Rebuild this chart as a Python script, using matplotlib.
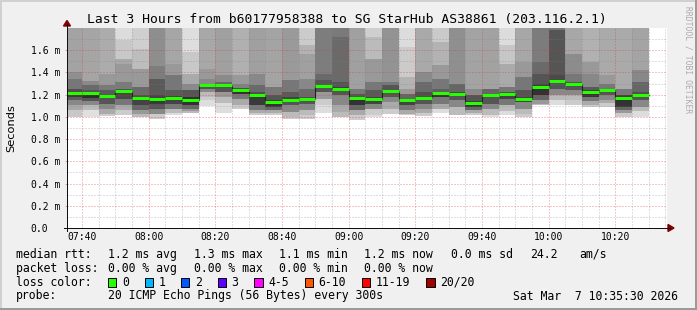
import matplotlib
matplotlib.use("Agg")
import matplotlib.pyplot as plt
from matplotlib.patches import Rectangle, Polygon
from matplotlib.lines import Line2D

# --- data -------------------------------------------------------------
# start of each 300s step, minutes after 07:00
bar_start = list(range(35, 210, 5))

# median rtt per step (ms)
median_ms = [1.213, 1.213, 1.189, 1.231, 1.171, 1.159, 1.171, 1.153, 1.285, 1.285,
             1.243, 1.195, 1.132, 1.150, 1.159, 1.276, 1.252, 1.171, 1.159, 1.231,
             1.150, 1.171, 1.213, 1.204, 1.123, 1.195, 1.204, 1.162, 1.267, 1.321,
             1.294, 1.222, 1.240, 1.171, 1.195]

# smoke above the median: (upper edge ms, gray level), from median upwards
smoke_above = [
    [(1.25, 0x50), (1.34, 0x77), (1.40, 0x8f), (2, 0xa3)],
    [(1.24, 0x55), (1.285, 0x6a), (1.32, 0x8a), (2, 0xa5)],
    [(1.24, 0x5a), (1.285, 0x7a), (1.39, 0x99), (2, 0xac)],
    [(1.255, 0x55), (1.315, 0x7a), (1.48, 0x99), (1.52, 0xa8), (1.69, 0xc8), (2, 0xdc)],
    [(1.195, 0x50), (1.27, 0x6a), (1.435, 0x99), (1.61, 0xbd), (2, 0xcf)],
    [(1.195, 0x45), (1.345, 0x5a), (1.46, 0x7d), (2, 0x8e)],
    [(1.19, 0x45), (1.24, 0x5a), (1.375, 0x77), (1.48, 0x99), (2, 0xa6)],
    [(1.18, 0x33), (1.24, 0x55), (1.30, 0x8a), (1.39, 0xaa), (1.58, 0xc8), (2, 0xde)],
    [(1.30, 0x55), (1.345, 0x88), (1.435, 0x99), (2, 0xa8)],
    [(1.315, 0x66), (1.375, 0x8a), (2, 0xa0)],
    [(1.26, 0x50), (1.30, 0x80), (1.375, 0x99), (2, 0xb0)],
    [(1.225, 0x50), (1.285, 0x6a), (1.39, 0x88), (2, 0xa0)],
    [(1.15, 0x40), (1.195, 0x55), (1.27, 0x77), (2, 0xa4)],
    [(1.18, 0x45), (1.225, 0x5a), (1.33, 0x77), (2, 0x9a)],
    [(1.18, 0x50), (1.255, 0x6a), (1.345, 0x88), (1.57, 0xa0), (1.644, 0xb3), (2, 0xcb)],
    [(1.29, 0x33), (1.33, 0x55), (1.39, 0x6a), (2, 0x7d)],
    [(1.27, 0x40), (1.315, 0x55), (1.72, 0x6a), (2, 0x7a)],
    [(1.18, 0x40), (1.21, 0x55), (1.255, 0x77), (2, 0xa0)],
    [(1.18, 0x45), (1.24, 0x5a), (1.315, 0x77), (1.524, 0x99), (1.72, 0xbb), (2, 0xcf)],
    [(1.24, 0x40), (1.285, 0x55), (1.315, 0x77), (2, 0x93)],
    [(1.165, 0x45), (1.21, 0x66), (1.255, 0x99), (1.36, 0xb3), (1.63, 0xcb), (2, 0xdc)],
    [(1.225, 0x50), (1.315, 0x6a), (1.405, 0x8a), (2, 0xa9)],
    [(1.225, 0x40), (1.255, 0x60), (1.345, 0x77), (1.464, 0x99), (1.674, 0xb3), (2, 0xca)],
    [(1.225, 0x4a), (1.30, 0x66), (2, 0x8f)],
    [(1.141, 0x40), (1.195, 0x55), (1.255, 0x88), (2, 0xa3)],
    [(1.21, 0x50), (1.255, 0x66), (2, 0xa2)],
    [(1.225, 0x50), (1.27, 0x77), (1.479, 0xaa), (1.644, 0xc6), (2, 0xdc)],
    [(1.18, 0x45), (1.24, 0x55), (1.36, 0x77), (1.494, 0x99), (2, 0xa7)],
    [(1.30, 0x40), (1.39, 0x55), (1.494, 0x6a), (2, 0x7c)],
    [(1.33, 0x40), (1.375, 0x4a), (1.78, 0x55), (2, 0x77)],
    [(1.315, 0x55), (1.39, 0x77), (1.57, 0x8c), (2, 0xa7)],
    [(1.24, 0x45), (1.27, 0x5a), (1.39, 0x88), (1.494, 0x99), (2, 0xb1)],
    [(1.255, 0x55), (1.30, 0x77), (1.375, 0x99), (2, 0xaa)],
    [(1.195, 0x40), (1.255, 0x77), (2, 0xaa)],
    [(1.225, 0x50), (1.315, 0x66), (1.42, 0x88), (2, 0xa4)],
]

# smoke below the median: (lower edge ms, gray level), from median downwards
smoke_below = [
    [(1.18, 0x3a), (1.15, 0x5c), (1.105, 0x88), (1.06, 0xa8), (1.00, 0xc8)],
    [(1.17, 0x2e), (1.14, 0x55), (1.105, 0x88), (1.06, 0xbb), (1.00, 0xe0)],
    [(1.12, 0x55), (1.075, 0x88), (1.03, 0xaa), (1.01, 0xcc)],
    [(1.165, 0x48), (1.105, 0x77), (1.06, 0xaa), (1.02, 0xcc)],
    [(1.105, 0x44), (1.06, 0x66), (1.03, 0x99), (1.00, 0xbb)],
    [(1.12, 0x3a), (1.075, 0x55), (1.03, 0x88), (0.98, 0xcc)],
    [(1.12, 0x44), (1.075, 0x77), (1.039, 0xbb), (1.02, 0xdd)],
    [(1.11, 0x33), (1.075, 0x66), (1.05, 0x99), (1.039, 0xbb)],
    [(1.25, 0x55), (1.225, 0x88), (1.18, 0xbb), (1.15, 0xcc), (1.10, 0xdd)],
    [(1.225, 0x55), (1.18, 0x99), (1.129, 0xbb), (1.039, 0xdd)],
    [(1.21, 0x33), (1.165, 0x77), (1.105, 0xaa), (1.075, 0xcc)],
    [(1.105, 0x3a), (1.06, 0x77), (1.039, 0xaa), (1.021, 0xcc)],
    [(1.09, 0x33), (1.06, 0x66), (1.039, 0xaa), (1.021, 0xcc)],
    [(1.105, 0x55), (1.045, 0x88), (1.00, 0xbb), (0.98, 0xcc)],
    [(1.12, 0x55), (1.06, 0x88), (1.015, 0xbb), (0.98, 0xcc)],
    [(1.225, 0x55), (1.165, 0x99), (1.105, 0xcc), (1.039, 0xdd)],
    [(1.195, 0x55), (1.105, 0x88), (1.045, 0xaa), (1.00, 0xbb)],
    [(1.105, 0x33), (1.06, 0x66), (1.015, 0xaa), (0.97, 0xcc)],
    [(1.12, 0x44), (1.075, 0x88), (1.021, 0xcc), (1.00, 0xdd)],
    [(1.18, 0x55), (1.135, 0x88), (1.075, 0xaa), (1.03, 0xcc)],
    [(1.105, 0x44), (1.06, 0x77), (1.03, 0xaa), (1.015, 0xcc)],
    [(1.12, 0x55), (1.075, 0x88), (1.039, 0xaa), (1.009, 0xcc)],
    [(1.18, 0x33), (1.12, 0x77), (1.075, 0xaa), (1.039, 0xdd)],
    [(1.15, 0x55), (1.09, 0x88), (1.015, 0xbb)],
    [(1.09, 0x33), (1.06, 0x66), (1.039, 0xaa), (1.021, 0xcc)],
    [(1.12, 0x55), (1.075, 0x88), (1.021, 0xbb), (1.00, 0xdd)],
    [(1.165, 0x44), (1.105, 0x77), (1.051, 0xbb), (1.015, 0xdd)],
    [(1.135, 0x44), (1.075, 0x88), (1.03, 0xbb), (1.00, 0xcc)],
    [(1.195, 0x33), (1.15, 0x66), (1.12, 0x99), (1.105, 0xbb)],
    [(1.255, 0x55), (1.195, 0x88), (1.15, 0xbb), (1.105, 0xdd)],
    [(1.24, 0x55), (1.195, 0x88), (1.15, 0xbb), (1.11, 0xcc)],
    [(1.18, 0x33), (1.141, 0x77), (1.105, 0xaa), (1.09, 0xcc)],
    [(1.195, 0x55), (1.15, 0x88), (1.129, 0xaa), (1.09, 0xcc)],
    [(1.09, 0x33), (1.06, 0x66), (1.039, 0x99), (1.00, 0xcc)],
    [(1.15, 0x55), (1.09, 0x88), (1.051, 0xbb), (1.00, 0xdd)],
]

xtick_min = [40, 60, 80, 100, 120, 140, 160, 180, 200]
xtick_labels = ["07:40", "08:00", "08:20", "08:40", "09:00", "09:20", "09:40", "10:00", "10:20"]
ytick_vals = [0.0, 0.2, 0.4, 0.6, 0.8, 1.0, 1.2, 1.4, 1.6]
ytick_labels = ["0.0", "0.2 m", "0.4 m", "0.6 m", "0.8 m", "1.0 m", "1.2 m", "1.4 m", "1.6 m"]

loss_labels = ["0", "1", "2", "3", "4-5", "6-10", "11-19", "20/20"]
loss_colors = ["#26ff00", "#00b8ff", "#0059ff", "#5e00ff", "#ff00ff", "#ff5500", "#ff0000", "#a10000"]

title = "Last 3 Hours from b60177958388 to SG StarHub AS38861 (203.116.2.1)"

# --- layout -----------------------------------------------------------
MONO = "DejaVu Sans Mono"
W, H = 697, 310


def fx(x):
    return x / W


def fy(y):
    return 1 - y / H


def gray(g):
    return "#%02x%02x%02x" % (g, g, g)


fig = plt.figure(figsize=(W / 100, H / 100), dpi=100, facecolor="#f0f0f0")
ax = fig.add_axes([fx(67), fy(228), 600 / W, 200 / H], facecolor="white")
ax.set_xlim(35.5, 215.5)
ax.set_ylim(0, 1.8)

# smoke
xs, bottoms, heights, colors = [], [], [], []
for t, med, up, down in zip(bar_start, median_ms, smoke_above, smoke_below):
    lo = med
    for edge, g in up:
        xs.append(t); bottoms.append(lo); heights.append(edge - lo); colors.append(gray(g))
        lo = edge
    hi = med
    for edge, g in down:
        xs.append(t); bottoms.append(edge); heights.append(hi - edge); colors.append(gray(g))
        hi = edge
ax.bar(xs, heights, width=5, bottom=bottoms, align="edge", color=colors,
       linewidth=0, antialiased=False, zorder=1)

# grid (drawn over the smoke like rrdtool), dotted
DOT = (0, (1, 2))
for m in range(40, 216, 5):
    if m % 20 == 0:
        ax.axvline(m, color="#e03030", alpha=0.55, lw=0.72, ls=DOT, zorder=2)
    else:
        ax.axvline(m, color="#808080", alpha=0.5, lw=0.72, ls=DOT, zorder=2)
for k in range(1, 18):
    if k % 2 == 0:
        ax.axhline(k / 10, color="#e03030", alpha=0.55, lw=0.72, ls=DOT, zorder=2)
    else:
        ax.axhline(k / 10, color="#808080", alpha=0.5, lw=0.72, ls=DOT, zorder=2)

# median line
ends = [t + 5 for t in bar_start]
ax.step(bar_start + [ends[-1]], median_ms + [median_ms[-1]], where="post",
        color="#202020", lw=0.8, zorder=3)
ax.hlines(median_ms, bar_start, ends, color="#26ff00", lw=2.16, zorder=4)

for s in ax.spines.values():
    s.set_visible(False)
ax.set_xticks(xtick_min)
ax.set_xticklabels(xtick_labels, family=MONO, fontsize=7)
ax.tick_params(axis="x", length=0, pad=2.7)
ax.set_yticks(ytick_vals)
ax.set_yticklabels(ytick_labels, family=MONO, fontsize=7)
ax.tick_params(axis="y", length=1.44, width=0.72, color="#e0a0a0", pad=24.7)
for lab in ax.get_yticklabels():
    lab.set_horizontalalignment("left")

# axes with arrows
fig.add_artist(Line2D([fx(64), fx(670)], [fy(228), fy(228)], color="#101010", lw=0.72,
                      antialiased=False))
fig.add_artist(Line2D([fx(67), fx(67)], [fy(231), fy(24)], color="#101010", lw=0.72,
                      antialiased=False))
fig.add_artist(Polygon([(fx(668), fy(224.5)), (fx(674), fy(228)), (fx(668), fy(231.5))],
                       closed=True, color="#7f0000"))
fig.add_artist(Polygon([(fx(63.5), fy(26)), (fx(67), fy(20.5)), (fx(70.5), fy(26))],
                       closed=True, color="#7f0000"))

# frame shading
fig.add_artist(Rectangle((0, fy(2)), 1, 2 / H, color="#d0d0d0", lw=0))
fig.add_artist(Rectangle((0, 0), 2 / W, 1, color="#d0d0d0", lw=0))
fig.add_artist(Rectangle((fx(695), 0), 2 / W, 1, color="#9a9a9a", lw=0))
fig.add_artist(Rectangle((0, 0), 1, 2 / H, color="#9a9a9a", lw=0))

# texts
fig.text(fx(347), fy(19), title, family=MONO, fontsize=9.4, ha="center", va="center")
fig.text(fx(11), fy(128), "Seconds", family="DejaVu Sans", fontsize=8.2,
         rotation=90, ha="center", va="center")
fig.text(fx(688), fy(60), "RRDTOOL / TOBI OETIKER", family=MONO, fontsize=5.8,
         color="#ababab", rotation=270, ha="center", va="center")

FS = 8.3
row1 = [("median rtt:", 15.6), ("1.2 ms avg", 107.6), ("1.3 ms max", 193.8),
        ("1.1 ms min", 279), ("1.2 ms now", 364.4), ("0.0 ms sd", 451),
        ("24.2", 530), ("am/s", 579)]
row2 = [("packet loss:", 15.6), ("0.00 % avg", 107.6), ("0.00 % max", 193.8),
        ("0.00 % min", 279), ("0.00 % now", 364.4)]
row4 = [("probe:", 15.6), ("20 ICMP Echo Pings (56 Bytes) every 300s", 107.6),
        ("Sat Mar  7 10:35:30 2026", 513)]
for row, y in ((row1, 254.3), (row2, 268.3), (row4, 296)):
    for txt, x in row:
        fig.text(fx(x), fy(y), txt, family=MONO, fontsize=FS, ha="left", va="center")

fig.text(fx(15.6), fy(282), "loss color:", family=MONO, fontsize=FS, ha="left", va="center")
cw = 6.95
x = 108
for lab, col in zip(loss_labels, loss_colors):
    fig.add_artist(Rectangle((fx(x), fy(286.5)), 8.4 / W, 9 / H, facecolor=col,
                             edgecolor="black", lw=0.7))
    fig.text(fx(x + 14), fy(282), lab, family=MONO, fontsize=FS, ha="left", va="center")
    x = x + 14 + len(lab) * cw + 15.6

fig.savefig("out.png", dpi=100, facecolor=fig.get_facecolor())
